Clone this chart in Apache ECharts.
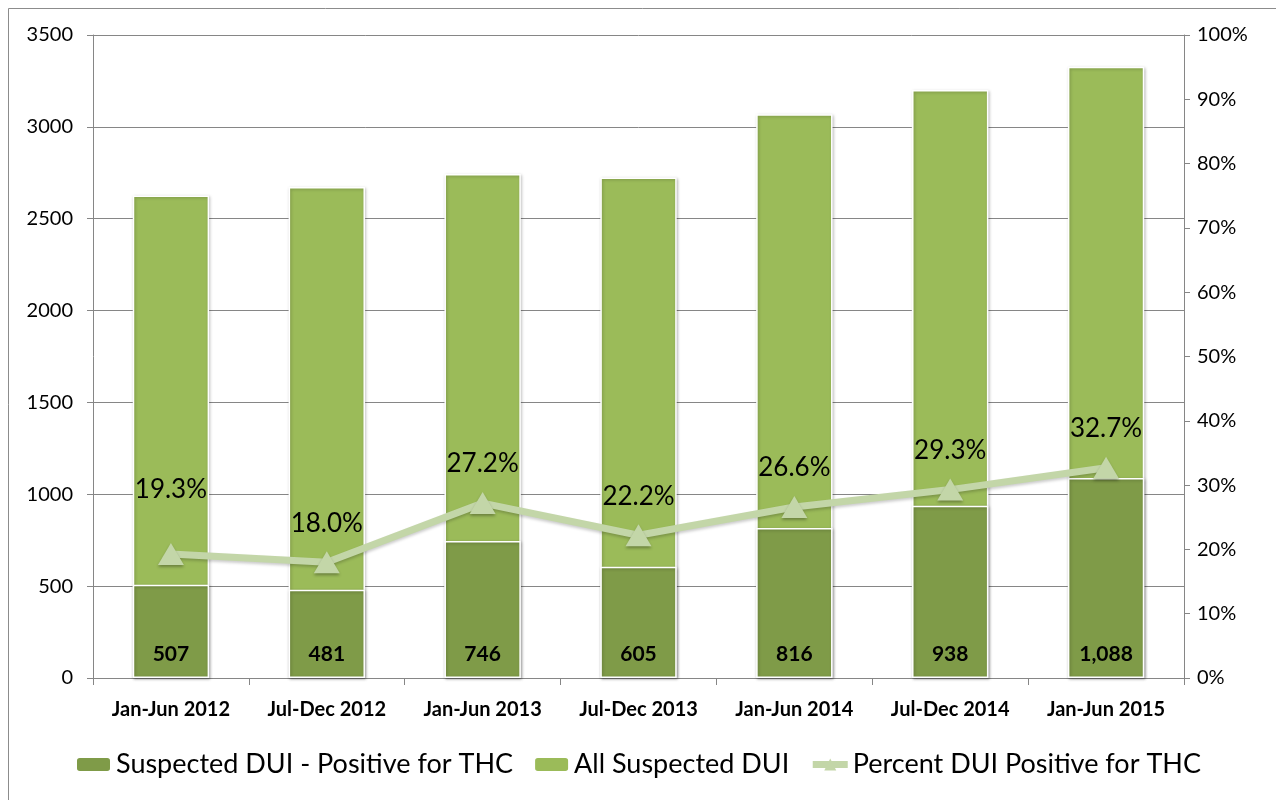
<!DOCTYPE html>
<html>
<head>
<meta charset="utf-8">
<script src="https://cdn.jsdelivr.net/npm/echarts@6/dist/echarts.min.js"></script>
<style>
  html, body { margin: 0; padding: 0; background: #fff; }
  #main { width: 1276px; height: 800px; }
</style>
</head>
<body>
<div id="main"></div>
<script>
// periods on the x axis
const periods = ['Jan-Jun 2012', 'Jul-Dec 2012', 'Jan-Jun 2013', 'Jul-Dec 2013', 'Jan-Jun 2014', 'Jul-Dec 2014', 'Jan-Jun 2015'];
// Suspected DUI - Positive for THC
const positiveThc = [507, 481, 746, 605, 816, 938, 1088];
// All Suspected DUI
const allSuspected = [2627, 2672, 2743, 2725, 3068, 3201, 3327];
// Percent DUI Positive for THC
const percentThc = [19.3, 18.0, 27.2, 22.2, 26.6, 29.3, 32.7];

const FONT = 'Lato';
const chart = echarts.init(document.getElementById('main'), null, { renderer: 'canvas' });

const option = {
  backgroundColor: '#fff',
  textStyle: { fontFamily: FONT },
  graphic: [{
    type: 'rect',
    shape: { x: 8.5, y: 8.5, width: 1400, height: 1000 },
    style: { fill: 'none', stroke: '#8c8c8c', lineWidth: 1 },
    silent: true
  }],
  grid: { left: 93, right: 92, top: 35, bottom: 122 },
  legend: {
    data: [
      'Suspected DUI - Positive for THC',
      'All Suspected DUI',
      { name: 'Percent DUI Positive for THC', lineStyle: { width: 7 } }
    ],
    bottom: 17,
    left: 'center',
    itemWidth: 35,
    itemHeight: 15,
    itemGap: 20,
    textStyle: { fontFamily: FONT, fontSize: 27, color: '#000' }
  },
  xAxis: {
    type: 'category',
    data: periods,
    boundaryGap: true,
    axisLine: { lineStyle: { color: '#868686' } },
    axisTick: { show: true, length: 7, lineStyle: { color: '#868686' } },
    axisLabel: { interval: 0, fontFamily: FONT, fontSize: 20, fontWeight: 'bold', color: '#000', margin: 22 }
  },
  yAxis: [{
    type: 'value',
    min: 0, max: 3500, interval: 500,
    axisLine: { show: true, lineStyle: { color: '#868686' } },
    axisTick: { show: true, inside: false, length: 6, lineStyle: { color: '#868686' } },
    splitLine: { lineStyle: { color: '#868686' } },
    axisLabel: { fontFamily: FONT, fontSize: 20, color: '#000', margin: 20, formatter: v => String(v) }
  }, {
    type: 'value',
    min: 0, max: 100, interval: 10,
    position: 'right',
    axisLine: { show: true, lineStyle: { color: '#868686' } },
    axisTick: { show: true, length: 6, lineStyle: { color: '#868686' } },
    splitLine: { show: false },
    axisLabel: { fontFamily: FONT, fontSize: 20, color: '#000', margin: 13, formatter: '{value}%' }
  }],
  series: [{
    name: 'Suspected DUI - Positive for THC',
    type: 'bar',
    data: positiveThc,
    barWidth: '49%',
    barGap: '-100%',
    z: 3,
    itemStyle: {
      color: '#7f9b48', borderColor: '#fff', borderWidth: 1.5,
      shadowColor: 'rgba(0,0,0,0.25)', shadowBlur: 3, shadowOffsetX: 1, shadowOffsetY: 1
    },
    label: {
      show: true, position: 'insideBottom', distance: 13,
      fontFamily: FONT, fontSize: 21, fontWeight: 'bold', color: '#000',
      formatter: p => p.value.toLocaleString('en-US')
    }
  }, {
    name: 'All Suspected DUI',
    type: 'bar',
    data: allSuspected,
    barWidth: '49%',
    barGap: '-100%',
    z: 2,
    itemStyle: {
      color: '#9bbb59', borderColor: '#fff', borderWidth: 1.5,
      shadowColor: 'rgba(0,0,0,0.25)', shadowBlur: 3, shadowOffsetX: 1, shadowOffsetY: 1
    }
  }, {
    name: 'Percent DUI Positive for THC',
    type: 'line',
    yAxisIndex: 1,
    z: 4,
    data: percentThc.map((v, i) => i === 0 ? { value: v, label: { distance: 40 } } : v),
    symbol: 'triangle',
    symbolSize: [26, 22],
    lineStyle: { color: '#c3d6a8', width: 7, shadowColor: 'rgba(0,0,0,0.2)', shadowBlur: 3, shadowOffsetY: 2 },
    itemStyle: { color: '#c3d6a8', shadowColor: 'rgba(0,0,0,0.3)', shadowBlur: 3, shadowOffsetY: 2 },
    label: {
      show: true, position: 'top', distance: 15,
      fontFamily: FONT, fontSize: 26, color: '#000',
      formatter: p => p.value.toFixed(1) + '%'
    }
  }]
};

chart.setOption(option);
</script>
</body>
</html>
